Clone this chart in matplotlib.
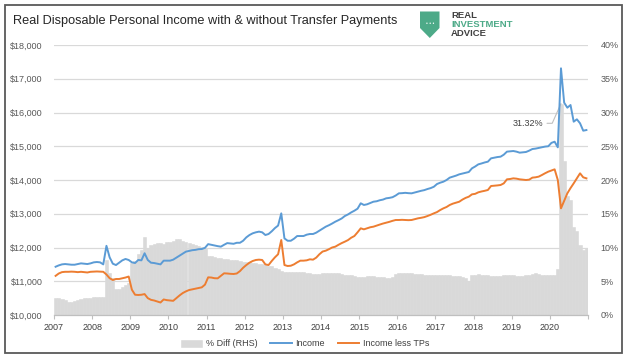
import matplotlib
matplotlib.use("Agg")
import matplotlib.pyplot as plt
from matplotlib.patches import Polygon, Rectangle

plt.rcParams['font.family'] = ['Liberation Sans', 'DejaVu Sans']

# monthly data, Jan 2007 .. Dec 2020 (one row per year)
years = [str(y) for y in range(2007, 2021)]

income = [
    11430, 11470, 11500, 11510, 11500, 11490, 11490, 11510, 11530, 11520, 11510, 11530,
    11560, 11570, 11560, 11500, 12050, 11710, 11520, 11480, 11550, 11620, 11660, 11630,
    11560, 11540, 11630, 11620, 11830, 11630, 11550, 11540, 11520, 11500, 11610, 11610,
    11610, 11640, 11700, 11760, 11820, 11877, 11900, 11920, 11930, 11950, 11955, 11990,
    12100, 12080, 12060, 12040, 12025, 12080, 12130, 12120, 12110, 12140, 12140, 12200,
    12300, 12370, 12420, 12450, 12470, 12450, 12370, 12400, 12480, 12575, 12650, 13012,
    12270, 12200, 12200, 12260, 12340, 12340, 12340, 12380, 12400, 12400, 12440, 12500,
    12560, 12617, 12660, 12710, 12765, 12810, 12860, 12933, 12980, 13040, 13090, 13150,
    13310, 13260, 13280, 13320, 13357, 13370, 13400, 13420, 13457, 13470, 13490, 13540,
    13605, 13610, 13620, 13610, 13605, 13630, 13654, 13680, 13700, 13733, 13760, 13800,
    13881, 13920, 13950, 14000, 14070, 14100, 14130, 14168, 14190, 14210, 14237, 14346,
    14400, 14464, 14490, 14520, 14543, 14642, 14660, 14680, 14691, 14750, 14840, 14850,
    14859, 14840, 14810, 14820, 14830, 14870, 14918, 14930, 14950, 14968, 14990, 15000,
    15100, 15135, 14968, 17309, 16292, 16143, 16222, 15728, 15798, 15680, 15461, 15480,
]

income_less_tps = [
    11160, 11230, 11270, 11280, 11280, 11285, 11280, 11270, 11280, 11270, 11260, 11280,
    11284, 11290, 11285, 11280, 11200, 11090, 11037, 11067, 11067, 11090, 11110, 11140,
    10750, 10600, 10593, 10600, 10620, 10500, 10450, 10430, 10400, 10370, 10460, 10440,
    10430, 10420, 10500, 10580, 10650, 10700, 10740, 10760, 10780, 10800, 10820, 10900,
    11116, 11110, 11090, 11086, 11160, 11235, 11230, 11220, 11215, 11230, 11300, 11400,
    11480, 11550, 11600, 11630, 11640, 11630, 11500, 11480, 11600, 11708, 11800, 12222,
    11480, 11452, 11460, 11500, 11560, 11610, 11610, 11620, 11650, 11640, 11700, 11800,
    11880, 11906, 11950, 12000, 12025, 12080, 12130, 12173, 12220, 12290, 12340, 12450,
    12568, 12538, 12570, 12600, 12617, 12650, 12680, 12710, 12735, 12760, 12790, 12815,
    12815, 12820, 12815, 12810, 12815, 12840, 12864, 12880, 12900, 12933, 12970, 13012,
    13050, 13110, 13160, 13200, 13260, 13300, 13330, 13357, 13420, 13470, 13506, 13575,
    13590, 13635, 13660, 13680, 13704, 13822, 13830, 13840, 13852, 13900, 14020, 14030,
    14049, 14040, 14020, 14010, 14000, 14010, 14070, 14080, 14100, 14148, 14200, 14247,
    14280, 14316, 14000, 13160, 13380, 13605, 13760, 13901, 14050, 14198, 14079, 14049,
]

pct_diff = [
    2.57, 2.45, 2.30, 2.15, 2.00, 1.98, 2.10, 2.25, 2.40, 2.47, 2.50, 2.55,
    2.62, 2.60, 2.65, 2.72, 8.10, 6.20, 5.50, 3.80, 3.90, 4.10, 4.40, 4.70,
    7.65, 8.00, 9.00, 9.60, 11.60, 9.90, 10.30, 10.50, 10.70, 10.60, 10.50, 10.80,
    10.86, 11.00, 11.20, 11.20, 11.00, 10.80, 10.70, 10.50, 10.40, 10.20, 10.10, 10.00,
    8.74, 8.70, 8.60, 8.50, 8.40, 8.30, 8.30, 8.20, 8.15, 8.10, 8.00, 7.90,
    7.90, 7.80, 7.70, 7.65, 7.60, 7.50, 7.40, 7.30, 7.20, 6.90, 6.80, 6.50,
    6.42, 6.40, 6.35, 6.32, 6.30, 6.32, 6.30, 6.25, 6.20, 6.10, 6.07, 6.10,
    6.20, 6.27, 6.25, 6.20, 6.20, 6.15, 6.10, 6.00, 5.95, 5.90, 5.80, 5.70,
    5.68, 5.70, 5.75, 5.78, 5.75, 5.70, 5.65, 5.60, 5.55, 5.53, 5.60, 6.10,
    6.17, 6.17, 6.15, 6.17, 6.15, 6.10, 6.10, 6.05, 6.00, 5.93, 5.95, 5.93,
    5.93, 5.95, 5.95, 5.90, 5.88, 5.85, 5.85, 5.83, 5.70, 5.53, 5.08, 5.90,
    6.00, 6.02, 6.00, 5.95, 5.90, 5.80, 5.78, 5.80, 5.85, 5.90, 5.95, 5.95,
    5.90, 5.85, 5.80, 5.85, 5.90, 6.00, 6.10, 6.17, 6.10, 6.00, 5.95, 5.93,
    5.93, 5.90, 6.77, 31.32, 22.80, 17.60, 17.10, 13.10, 12.40, 10.40, 9.70, 10.00,
]

BLUE = '#5B9BD5'
ORANGE = '#ED7D31'
GREY = '#D9D9D9'
LABEL = '#595959'
W, H = 627, 363


def px(x, y):
    # pixel position (from top-left) -> figure fraction
    return x / W, 1 - y / H


fig = plt.figure(figsize=(W / 100, H / 100), dpi=100)
ax = fig.add_axes([54 / W, 1 - 315 / H, 534 / W, 270 / H])
ax2 = ax.twinx()
ax.set_zorder(2)
ax2.set_zorder(1)
ax.patch.set_visible(False)

x = [i + 0.5 for i in range(len(income))]

bars = ax2.bar(x, pct_diff, width=1.0, color=GREY, edgecolor=GREY, linewidth=0.4,
               label='% Diff (RHS)')
l1, = ax.plot(x, income, color=BLUE, lw=1.4, label='Income')
l2, = ax.plot(x, income_less_tps, color=ORANGE, lw=1.4, label='Income less TPs')

ax.set_xlim(0, len(income))
ax.set_ylim(10000, 18000)
ax2.set_ylim(0, 40)

ax.set_yticks(range(10000, 18001, 1000))
ax.set_yticklabels([f'${v:,}' for v in range(10000, 18001, 1000)])
ax2.set_yticks(range(0, 41, 5))
ax2.set_yticklabels([f'{v}%' for v in range(0, 41, 5)])

ticks = list(range(0, len(income) + 1, 12))
ax.set_xticks(ticks)
ax.set_xticklabels(years + [''])

ax2.yaxis.grid(True, color=GREY, lw=0.9)
ax2.set_axisbelow(True)

for a in (ax, ax2):
    for s in ('top', 'left', 'right'):
        a.spines[s].set_visible(False)
ax2.spines['bottom'].set_visible(False)
ax.spines['bottom'].set_color('#BFBFBF')
ax.spines['bottom'].set_linewidth(0.9)

ax.tick_params(axis='y', length=0, pad=8, labelsize=6.5, labelcolor=LABEL)
ax2.tick_params(axis='y', length=0, pad=9, labelsize=6.5, labelcolor=LABEL)
ax.tick_params(axis='x', length=3, width=0.8, color='#BFBFBF', pad=3,
               labelsize=6.5, labelcolor='#404040')

# label on the April 2020 spike
ax2.annotate('31.32%', xy=(x[159], pct_diff[159]), xytext=(153.8, 28.4),
             ha='right', va='center', fontsize=6.5, color='#404040',
             arrowprops=dict(arrowstyle='-', color='#BFBFBF', lw=0.8,
                             shrinkA=1, shrinkB=0, relpos=(1, 0.5),
                             connectionstyle='angle,angleA=0,angleB=66,rad=0'))

fig.legend(handles=[bars, l1, l2], loc='center', bbox_to_anchor=px(305, 344),
           ncol=3, frameon=False, fontsize=6.5, handlelength=2.4,
           handletextpad=0.4, columnspacing=1.4, labelcolor='#404040')

fig.text(*px(13, 24), 'Real Disposable Personal Income with & without Transfer Payments',
         fontsize=9.2, color='#262626', va='baseline', ha='left')

# logo
shield = [px(420, 11.5), px(439.5, 11.5), px(439.5, 28), px(429.8, 38), px(420, 28)]
fig.patches.append(Polygon(shield, closed=True, transform=fig.transFigure,
                           facecolor='#4DAA88', edgecolor='none'))
fig.text(*px(429.8, 23.5), '• • •', fontsize=3.6, color='white', ha='center', va='center')
fig.text(*px(451, 15.5), 'REAL', fontsize=6.8, color='#404040', va='center', weight='bold')
fig.text(*px(451, 24.5), 'INVESTMENT', fontsize=6.8, color='#4DAA88', va='center', weight='bold')
fig.text(*px(451, 33.5), 'ADVICE', fontsize=6.8, color='#404040', va='center', weight='bold')

# outer frame
fig.patches.append(Rectangle(px(5, 353), 617 / W, 348 / H, transform=fig.transFigure,
                             fill=False, edgecolor='#595959', lw=1.3))

fig.savefig('out.png', dpi=100)
